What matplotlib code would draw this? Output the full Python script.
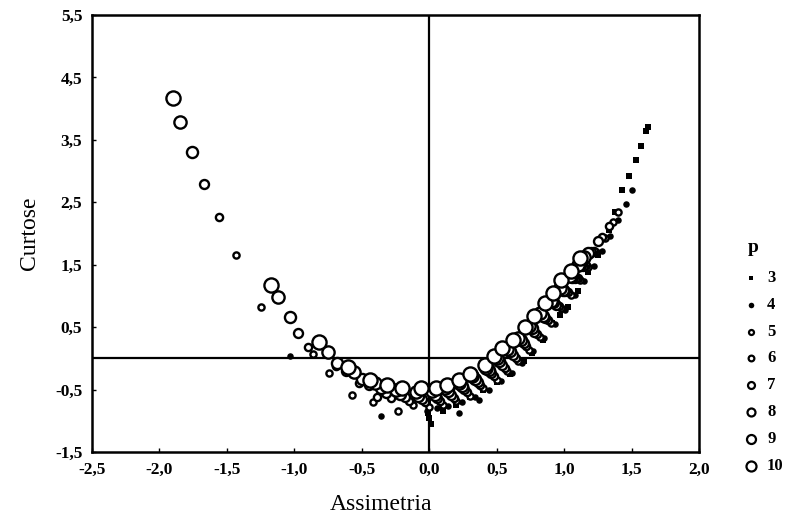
import matplotlib
matplotlib.use("Agg")
import matplotlib.pyplot as plt

plt.rcParams['font.family'] = ['Liberation Serif', 'DejaVu Serif']

# skewness (x) / kurtosis (y) points for each p
p3_x = [-0.01, 0.00, -0.01, 0.00, 0.01, 0.10, 0.20, 0.30, 0.40, 0.50, 0.60, 0.70, 0.76, 0.84,
        0.91, 0.97, 1.03, 1.10, 1.18, 1.25, 1.33, 1.38, 1.43, 1.48, 1.53, 1.57, 1.61, 1.62]
p3_y = [-0.70, -0.80, -0.88, -0.96, -1.05, -0.85, -0.74, -0.62, -0.51, -0.38, -0.25, -0.05, 0.08, 0.30,
        0.56, 0.70, 0.82, 1.08, 1.38, 1.65, 2.05, 2.35, 2.70, 2.92, 3.18, 3.40, 3.64, 3.70]

p4_x = [-1.03, -0.36, -0.02, 0.06, 0.14, 0.22, 0.24, 0.34, 0.37, 0.44, 0.53, 0.61, 0.69, 0.77,
        0.85, 0.93, 1.01, 1.08, 1.15, 1.22, 1.28, 1.34, 1.40, 1.46, 1.50]
p4_y = [0.03, -0.93, -0.85, -0.80, -0.76, -0.88, -0.70, -0.62, -0.66, -0.50, -0.37, -0.23, -0.07, 0.11,
        0.32, 0.55, 0.78, 1.01, 1.24, 1.48, 1.72, 1.96, 2.22, 2.48, 2.70]

p5_x = [-1.43, -1.25, -0.86, -0.74, -0.57, -0.42, -0.23, -0.12, 0.00, 0.10, 0.20, 0.30, 0.40, 0.50,
        0.58, 0.66, 0.74, 0.82, 0.90, 0.98, 1.05, 1.12, 1.18, 1.24, 1.30, 1.36, 1.40]
p5_y = [1.65, 0.83, 0.07, -0.24, -0.58, -0.70, -0.85, -0.75, -0.78, -0.74, -0.68, -0.60, -0.48, -0.34,
        -0.20, -0.04, 0.14, 0.34, 0.56, 0.80, 1.02, 1.25, 1.47, 1.70, 1.93, 2.18, 2.35]

p6_x = [-1.56, -0.90, -0.69, -0.52, -0.39, -0.28, -0.15, -0.03, 0.08, 0.18, 0.28, 0.38, 0.48, 0.56,
        0.64, 0.72, 0.80, 0.88, 0.96, 1.03, 1.10, 1.16, 1.22, 1.28, 1.33]
p6_y = [2.26, 0.18, -0.13, -0.40, -0.62, -0.64, -0.68, -0.70, -0.68, -0.63, -0.54, -0.43, -0.29, -0.15,
        0.01, 0.19, 0.39, 0.61, 0.84, 1.06, 1.28, 1.50, 1.72, 1.95, 2.12]

p7_x = [-1.67, -0.97, -0.62, -0.45, -0.32, -0.18, -0.05, 0.06, 0.16, 0.26, 0.36, 0.46, 0.54, 0.62,
        0.70, 0.78, 0.86, 0.94, 1.01, 1.08, 1.14, 1.20, 1.25]
p7_y = [2.79, 0.40, -0.20, -0.42, -0.55, -0.62, -0.65, -0.63, -0.58, -0.49, -0.38, -0.24, -0.10, 0.06,
        0.24, 0.43, 0.64, 0.86, 1.08, 1.28, 1.48, 1.70, 1.88]

p8_x = [-1.76, -1.03, -0.68, -0.50, -0.36, -0.22, -0.08, 0.04, 0.14, 0.24, 0.34, 0.44, 0.52, 0.60,
        0.68, 0.76, 0.84, 0.92, 0.99, 1.06, 1.12, 1.18]
p8_y = [3.31, 0.66, -0.08, -0.33, -0.48, -0.57, -0.60, -0.58, -0.53, -0.45, -0.33, -0.19, -0.05, 0.11,
        0.29, 0.48, 0.68, 0.90, 1.10, 1.30, 1.50, 1.68]

p9_x = [-1.85, -1.12, -0.75, -0.56, -0.40, -0.25, -0.10, 0.02, 0.12, 0.22, 0.32, 0.42, 0.50, 0.58,
        0.66, 0.74, 0.82, 0.90, 0.97, 1.04, 1.10, 1.15]
p9_y = [3.79, 0.98, 0.10, -0.22, -0.40, -0.50, -0.54, -0.53, -0.48, -0.40, -0.29, -0.15, 0.00, 0.15,
        0.33, 0.52, 0.72, 0.92, 1.12, 1.32, 1.50, 1.62]

p10_x = [-1.90, -1.17, -0.82, -0.60, -0.44, -0.31, -0.20, -0.06, 0.05, 0.13, 0.22, 0.30, 0.41, 0.48,
         0.54, 0.62, 0.71, 0.78, 0.86, 0.92, 0.98, 1.05, 1.12]
p10_y = [4.17, 1.17, 0.27, -0.14, -0.34, -0.42, -0.48, -0.48, -0.47, -0.42, -0.34, -0.25, -0.11, 0.03,
         0.16, 0.30, 0.50, 0.68, 0.88, 1.05, 1.25, 1.40, 1.60]

p_values = [3, 4, 5, 6, 7, 8, 9, 10]
xs = [p3_x, p4_x, p5_x, p6_x, p7_x, p8_x, p9_x, p10_x]
ys = [p3_y, p4_y, p5_y, p6_y, p7_y, p8_y, p9_y, p10_y]

x_ticks = [-2.5, -2.0, -1.5, -1.0, -0.5, 0.0, 0.5, 1.0, 1.5, 2.0]
y_ticks = [-1.5, -0.5, 0.5, 1.5, 2.5, 3.5, 4.5, 5.5]

# marker styles: (marker, size in plot, size in legend, filled)
styles = {3: ('s', 14, 10, True), 4: ('o', 22, 16, True), 5: ('o', 20, 13, False),
          6: ('o', 27, 17, False), 7: ('o', 42, 25, False), 8: ('o', 64, 33, False),
          9: ('o', 78, 42, False), 10: ('o', 104, 52, False)}

fig = plt.figure(figsize=(7.93, 5.23), dpi=100)
ax = fig.add_axes([92/793, 1 - 452/523, (699 - 92)/793, (452 - 15)/523])

for p, x, y in zip(p_values, xs, ys):
    m, s, _, filled = styles[p]
    ax.scatter(x, y, s=s, marker=m, facecolor='black' if filled else 'white',
               edgecolor='black', linewidths=0 if filled else 1.7, zorder=3)

ax.axhline(0, color='black', lw=1.6, zorder=2)
ax.axvline(0, color='black', lw=1.6, zorder=2)

ax.set_xlim(-2.5, 2.0)
ax.set_ylim(-1.5, 5.5)
ax.set_xticks(x_ticks)
ax.set_yticks(y_ticks)
ax.set_xticklabels([f"{v:.1f}".replace('.', ',') for v in x_ticks], fontweight='bold', fontsize=12.5)
ax.set_yticklabels([f"{v:.1f}".replace('.', ',') for v in y_ticks], fontweight='bold', fontsize=12.5)
ax.tick_params(direction='in', length=3, width=1, pad=7)
for sp in ax.spines.values():
    sp.set_linewidth(1.8)

fig.text(381/793, 1 - 505/523, 'Assimetria', ha='center', va='center', fontsize=17)
fig.text(30/793, 1 - 233/523, 'Curtose', ha='center', va='center', rotation=90, fontsize=17)

# legend drawn in its own small axes
lax = fig.add_axes([730/793, 0, 63/793, 1])
lax.set_xlim(0, 63)
lax.set_ylim(523, 0)
lax.axis('off')
lax.text(23, 247, 'p', ha='center', va='center', fontsize=14, fontweight='bold')
for i, p in enumerate(p_values):
    m, _, s, filled = styles[p]
    yy = 278 + i * 26.8
    lax.scatter([21], [yy], s=s, marker=m, facecolor='black' if filled else 'white',
                edgecolor='black', linewidths=0 if filled else 1.6)
    lax.text(37, yy, str(p), ha='left', va='center', fontsize=12, fontweight='bold')

fig.savefig('out.png', dpi=100)
